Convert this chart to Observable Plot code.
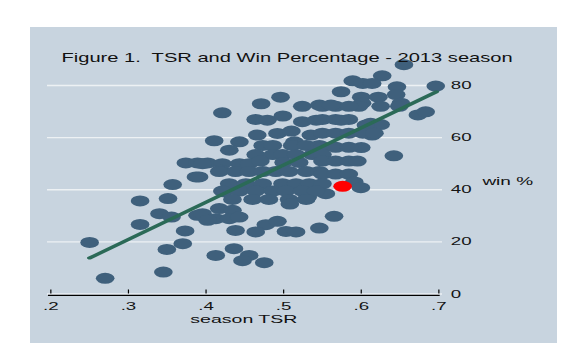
<!DOCTYPE html>
<html><head><meta charset="utf-8">
<script src="https://cdn.jsdelivr.net/npm/d3@7"></script>
<script src="https://cdn.jsdelivr.net/npm/@observablehq/plot@0.6"></script>
<style>
html,body{margin:0;padding:0;background:#fff;}
#wrap{position:relative;width:581px;height:357px;background:#fff;overflow:hidden;}
#panel{position:absolute;left:30px;top:27px;width:527px;height:316px;background:#c8d4df;}
#chart{position:absolute;left:0;top:0;}
#chart svg text{white-space:pre;}
</style></head><body>
<div id="wrap"><div id="panel"></div><div id="chart"></div></div>
<script>
// ---- data (season TSR, win %) ----
const tsr = [
0.655,0.627,0.589,0.602,0.614,0.646,0.696,0.574,
0.600,0.622,0.645,0.601,0.625,0.651,0.597,0.649,
0.673,0.683,0.612,0.625,0.606,0.604,0.614,0.602,0.617,
0.600,0.642,
0.421,0.471,0.496,0.524,0.546,0.550,0.567,0.584,0.561,
0.464,0.479,0.499,0.524,0.542,0.550,0.567,0.584,0.574,
0.466,0.492,0.535,0.550,0.567,0.584,0.510,
0.4105,0.443,0.514,0.430,0.473,0.486,0.511,0.529,0.546,
0.550,0.567,0.584,
0.464,0.486,0.4985,0.516,0.537,0.550,
0.374,0.389,0.402,0.3955,0.421,0.443,0.4555,
0.550,0.567,0.584,0.595,0.470,0.500,0.520,
0.419,0.417,0.438,0.4555,0.473,0.490,0.507,0.529,0.546,
0.550,0.567,0.584,
0.387,0.391,0.357,
0.4298,0.4513,0.473,0.4985,0.516,0.533,0.550,
0.591,0.5995,
0.5544,0.531,0.423,
0.421,0.443,0.464,0.486,0.503,0.524,0.5415,
0.434,0.460,0.481,0.507,0.529,0.508,
0.315,0.351,
0.340,0.3555,0.389,0.3955,0.417,0.434,0.4125,0.430,0.4427,0.402,
0.565,
0.315,0.477,0.492,0.546,
0.373,0.438,0.464,0.503,0.516,
0.250,0.370,0.3495,0.436,0.4125,0.4555,0.447,0.475,0.270,0.345
];
const win = [
88.0,83.7,81.8,80.8,80.8,79.5,79.8,77.6,
75.5,75.5,76.5,73.2,72.0,73.2,72.0,72.0,
68.7,69.9,65.5,65.0,64.8,62.2,61.0,61.7,61.7,
56.2,53.0,
69.5,73.0,75.5,72.0,72.5,72.0,72.0,72.0,72.5,
67.0,66.7,68.3,66.1,66.7,67.0,67.0,67.0,66.7,
61.0,61.6,61.0,61.7,61.7,61.7,62.5,
58.8,58.4,58.4,55.2,57.0,57.0,57.0,57.0,57.0,
56.3,56.3,56.3,
53.5,53.5,53.5,53.5,53.5,53.5,
50.3,50.3,50.3,50.0,50.0,50.0,50.0,
51.0,51.0,51.0,51.0,51.0,50.5,50.5,
47.5,47.0,47.0,47.0,47.0,47.0,47.0,47.0,47.0,
46.0,46.0,46.0,
44.9,44.9,42.0,
42.3,42.3,42.3,42.3,42.3,42.3,42.3,
43.0,40.8,
38.5,37.2,39.2,
39.5,39.5,39.5,39.5,39.5,39.5,39.5,
36.3,36.3,36.3,36.3,36.3,34.5,
35.7,36.6,
30.8,29.5,30.2,30.8,32.8,32.1,28.9,28.9,29.5,28.3,
29.8,
26.7,26.6,27.9,25.3,
24.2,24.4,23.8,24.0,23.8,
19.8,19.3,17.1,17.4,14.8,14.8,12.8,12.0,6.0,8.4
];
// highlighted team (red)
const hiTsr = [0.576];
const hiWin = [41.3];
// fitted line end points
const fitTsr = [0.250, 0.697];
const fitWin = [13.8, 77.6];
// ticks
const xTicks = [0.2, 0.3, 0.4, 0.5, 0.6, 0.7];
const xTickLabels = [".2", ".3", ".4", ".5", ".6", ".7"];
const yTicks = [0, 20, 40, 60, 80];
const titleText = "Figure 1.  TSR and Win Percentage - 2013 season";
const xLabel = "season TSR";
const yLabel = "win %";

// ---- build ----
const W = 342, H = 357, OUTW = 581;
const teams = tsr.map((t, i) => ({tsr: t, win: win[i]}));
const hi = hiTsr.map((t, i) => ({tsr: t, win: hiWin[i]}));
const fit = fitTsr.map((t, i) => ({tsr: t, win: fitWin[i]}));
const tickLen = 1.55;

const chart = Plot.plot({
  width: W, height: H,
  marginLeft: 27.67, marginRight: 81.82, marginTop: 85, marginBottom: 63.5,
  insetLeft: 1.76, insetRight: 2.35,
  x: {domain: [0.2, 0.7]},
  y: {domain: [0, 80]},
  style: {background: "transparent", fontFamily: "'Liberation Sans', Arial, sans-serif", color: "#151515"},
  marks: [
    Plot.ruleY(yTicks, {stroke: "#edf1f4", strokeWidth: 1.3}),
    Plot.ruleY([0], {x1: xTicks[0], x2: xTicks[xTicks.length - 1], stroke: "#000", strokeWidth: 1.2, dy: 1.3, insetLeft: -1.2, insetRight: -1}),
    Plot.ruleX(xTicks, {y1: 0, y2: tickLen, stroke: "#000", strokeWidth: 0.7}),
    Plot.axisX(xTicks, {anchor: "bottom", tickSize: 0, tickPadding: 8, fontSize: 11, label: null,
      tickFormat: d => xTickLabels[xTicks.indexOf(d)]}),
    Plot.axisY(yTicks, {anchor: "right", tickSize: 0, tickPadding: 4.7, fontSize: 11, label: null, textAnchor: "start"}),
    Plot.dot(teams, {x: "tsr", y: "win", r: 5.5, fill: "#3f607c", stroke: "none"}),
    Plot.dot(hi, {x: "tsr", y: "win", r: 5.5, fill: "#ff0000", stroke: "none"}),
    Plot.line(fit, {x: "tsr", y: "win", stroke: "#2b6a57", strokeWidth: 3}),
    Plot.text([titleText], {text: d => d, frameAnchor: "top-left", textAnchor: "start", dx: 8.0, dy: -32, fontSize: 11.85, fill: "#111"}),
    Plot.text([xLabel], {text: d => d, frameAnchor: "bottom", textAnchor: "middle", dx: -0.9, dy: 28.5, fontSize: 11.5, fill: "#111"}),
    Plot.text([yLabel], {text: d => d, frameAnchor: "right", textAnchor: "middle", dx: 38.2, dy: -8.3, fontSize: 11.2, fill: "#111"})
  ]
});
chart.setAttribute("width", OUTW);
chart.setAttribute("height", H);
chart.setAttribute("viewBox", `0 0 ${W} ${H}`);
chart.setAttribute("preserveAspectRatio", "none");
chart.style.width = OUTW + "px";
chart.style.height = H + "px";
chart.style.maxWidth = "none";
document.getElementById("chart").appendChild(chart);
</script>
</body></html>
